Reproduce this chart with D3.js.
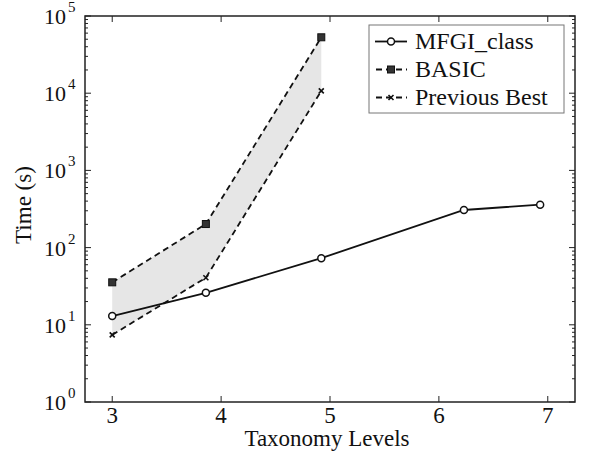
<!DOCTYPE html>
<html>
<head>
<meta charset="utf-8">
<script src="https://cdn.jsdelivr.net/npm/d3@7"></script>
<style>
  html, body { margin: 0; padding: 0; background: #fff; }
</style>
</head>
<body>
<script>
// Taxonomy depth (x) and run time in seconds (y, log scale)
const levels = [3, 3.86, 4.92, 6.23, 6.93];
const mfgiClass = [13.0, 26, 73, 307, 360];
const basicLevels = [3, 3.86, 4.92];
const basic = [35.5, 202, 53000];
const previousBest = [7.4, 40.7, 10700];

const xTicks = [3, 4, 5, 6, 7];
const yExponents = [0, 1, 2, 3, 4, 5];
const legendLabels = ["MFGI_class", "BASIC", "Previous Best"];

const W = 593, H = 455;
const plotL = 85, plotR = 575, plotT = 16, plotB = 402;
const serif = "'Liberation Serif', 'Times New Roman', Times, 'DejaVu Serif', serif";

const svg = d3.select("body").append("svg")
  .attr("width", W).attr("height", H)
  .attr("font-family", serif)
  .style("background", "#fff");

const x = d3.scaleLinear().domain([2.75, 7.25]).range([plotL, plotR]);
const y = d3.scaleLog().domain([1, 1e5]).range([plotB, plotT]);

// shaded band between BASIC and Previous Best
const band = basicLevels.map((lv, i) => ({ x: lv, hi: basic[i], lo: previousBest[i] }));
svg.append("path")
  .datum(band)
  .attr("fill", "#e6e6e6")
  .attr("d", d3.area().x(d => x(d.x)).y0(d => y(d.lo)).y1(d => y(d.hi)));

// ticks (pointing inward, on all four sides)
const tickG = svg.append("g").attr("stroke", "#222").attr("stroke-width", 1);
xTicks.forEach(t => {
  tickG.append("line").attr("x1", x(t)).attr("x2", x(t)).attr("y1", plotB).attr("y2", plotB - 6);
  tickG.append("line").attr("x1", x(t)).attr("x2", x(t)).attr("y1", plotT).attr("y2", plotT + 6);
});
const minorVals = [];
for (let e = 0; e < 5; e++) for (let m = 2; m <= 9; m++) minorVals.push(m * Math.pow(10, e));
yExponents.forEach(e => {
  const v = Math.pow(10, e);
  tickG.append("line").attr("x1", plotL).attr("x2", plotL + 6).attr("y1", y(v)).attr("y2", y(v));
  tickG.append("line").attr("x1", plotR).attr("x2", plotR - 6).attr("y1", y(v)).attr("y2", y(v));
});
minorVals.forEach(v => {
  tickG.append("line").attr("x1", plotL).attr("x2", plotL + 3).attr("y1", y(v)).attr("y2", y(v));
  tickG.append("line").attr("x1", plotR).attr("x2", plotR - 3).attr("y1", y(v)).attr("y2", y(v));
});

// series lines
const line = d3.line().x(d => x(d[0])).y(d => y(d[1]));
const dash = "6,4";
svg.append("path").datum(basicLevels.map((lv, i) => [lv, basic[i]]))
  .attr("fill", "none").attr("stroke", "#111").attr("stroke-width", 1.8)
  .attr("stroke-dasharray", dash).attr("d", line);
svg.append("path").datum(basicLevels.map((lv, i) => [lv, previousBest[i]]))
  .attr("fill", "none").attr("stroke", "#111").attr("stroke-width", 1.8)
  .attr("stroke-dasharray", dash).attr("d", line);
svg.append("path").datum(levels.map((lv, i) => [lv, mfgiClass[i]]))
  .attr("fill", "none").attr("stroke", "#111").attr("stroke-width", 1.8).attr("d", line);

// markers
function circleMark(g, cx, cy) {
  g.append("circle").attr("cx", cx).attr("cy", cy).attr("r", 3.5)
    .attr("fill", "#fff").attr("stroke", "#111").attr("stroke-width", 1.5);
}
function squareMark(g, cx, cy) {
  g.append("rect").attr("x", cx - 3.5).attr("y", cy - 3.5).attr("width", 7).attr("height", 7)
    .attr("fill", "#333").attr("stroke", "#111").attr("stroke-width", 1);
}
function crossMark(g, cx, cy) {
  const s = 2.5;
  g.append("path").attr("d", `M${cx - s},${cy - s}L${cx + s},${cy + s}M${cx - s},${cy + s}L${cx + s},${cy - s}`)
    .attr("stroke", "#111").attr("stroke-width", 1.6).attr("fill", "none");
}
const marks = svg.append("g");
basicLevels.forEach((lv, i) => squareMark(marks, x(lv), y(basic[i])));
basicLevels.forEach((lv, i) => crossMark(marks, x(lv), y(previousBest[i])));
levels.forEach((lv, i) => circleMark(marks, x(lv), y(mfgiClass[i])));

// frame
svg.append("rect").attr("x", plotL).attr("y", plotT)
  .attr("width", plotR - plotL).attr("height", plotB - plotT)
  .attr("fill", "none").attr("stroke", "#222").attr("stroke-width", 1.5);

// x tick labels
svg.append("g").selectAll("text").data(xTicks).join("text")
  .attr("x", d => x(d)).attr("y", 423)
  .attr("text-anchor", "middle").attr("font-size", 23).attr("fill", "#111")
  .text(d => d);

// y tick labels: 10 with superscript exponent
const yl = svg.append("g");
yExponents.forEach(e => {
  const t = yl.append("text").attr("x", 44).attr("y", y(Math.pow(10, e)) + 8)
    .attr("font-size", 22).attr("fill", "#111");
  t.append("tspan").text("10");
  t.append("tspan").attr("font-size", 15).attr("dy", -12).attr("dx", 2).text(e);
});

// axis titles
svg.append("text").attr("x", (plotL + plotR) / 2 - 3).attr("y", 446)
  .attr("text-anchor", "middle").attr("font-size", 23).attr("fill", "#111").text("Taxonomy Levels");
svg.append("text").attr("transform", "translate(31,205) rotate(-90)")
  .attr("text-anchor", "middle").attr("font-size", 23).attr("fill", "#111").text("Time (s)");

// legend
const lg = svg.append("g");
lg.append("rect").attr("x", 369).attr("y", 25).attr("width", 195).attr("height", 88)
  .attr("fill", "#fff").attr("stroke", "#777").attr("stroke-width", 1);
const rowY = [41.5, 69.5, 97.5];
const markFns = [circleMark, squareMark, crossMark];
legendLabels.forEach((lab, i) => {
  const ln = lg.append("line").attr("x1", 375).attr("x2", 407).attr("y1", rowY[i]).attr("y2", rowY[i])
    .attr("stroke", "#111").attr("stroke-width", 1.8);
  if (i > 0) ln.attr("stroke-dasharray", "6,4").attr("stroke-dashoffset", -1);
  markFns[i](lg, 391, rowY[i]);
  lg.append("text").attr("x", 415).attr("y", rowY[i] + 7.5).attr("font-size", 24)
    .attr("fill", "#111").text(lab);
});
</script>
</body>
</html>
